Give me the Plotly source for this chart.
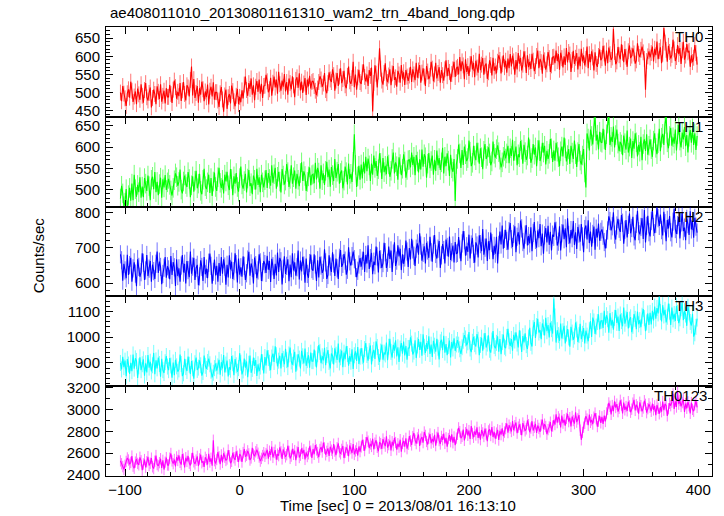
import numpy as np
import plotly.graph_objects as go
from plotly.subplots import make_subplots

# time grid: 1-s bins starting at t_start
t_start = -104
t_step = 1

th0 = [500, 476, 518, 497, 484, 463, 498, 509, 486, 530, 505, 474, 489, 503, 468, 511, 495, 480, 523, 491, 472, 507, 526, 487, 478, 499, 514, 459, 485, 508, 496, 468, 517, 502, 482, 523, 475, 491, 505, 470, 512, 488,
       488, 521, 496, 471, 508, 533, 515, 483, 502, 490, 526, 477, 506, 529, 496, 478, 520, 514, 489, 535, 572, 492, 537, 485, 499, 518, 472, 512, 494, 530, 509, 476, 503, 487, 522, 467, 505, 516, 489, 528, 480, 501,
       501, 478, 460, 498, 515, 481, 447, 492, 508, 455, 487, 496, 470, 519, 504, 476, 462, 491, 510, 468, 488, 473, 506, 484, 522, 544, 507, 491, 526, 510, 539, 494, 520, 479, 516, 532, 502, 536, 497, 524, 485, 518,
       519, 549, 531, 501, 509, 541, 491, 527, 544, 514, 536, 497, 557, 523, 505, 533, 516, 551, 503, 529, 494, 539, 526, 509, 545, 520, 487, 535, 542, 513, 553, 506, 530, 499, 525, 540, 493, 536, 517, 546, 511, 529,
       532, 518, 505, 493, 511, 529, 545, 536, 516, 525, 554, 507, 498, 526, 556, 536, 529, 564, 548, 505, 533, 554, 518, 544, 567, 526, 537, 560, 520, 512, 546, 572, 531, 524, 540, 585, 515, 550, 508, 542, 563, 529,
       524, 556, 578, 543, 531, 550, 518, 562, 546, 569, 448, 526, 575, 552, 514, 558, 622, 566, 533, 522, 554, 581, 539, 529, 547, 564, 520, 553, 573, 535, 542, 516, 560, 550, 527, 576, 538, 556, 521, 562, 544, 532,
       547, 571, 529, 564, 550, 534, 582, 541, 561, 576, 527, 555, 567, 544, 518, 573, 558, 537, 546, 585, 566, 531, 550, 582, 539, 554, 570, 527, 562, 548, 533, 564, 589, 545, 568, 557, 530, 551, 564, 585, 543, 567,
       571, 550, 598, 559, 586, 575, 537, 592, 557, 573, 546, 579, 600, 564, 582, 542, 588, 569, 555, 607, 562, 577, 595, 549, 574, 580, 538, 556, 589, 576, 547, 596, 560, 572, 553, 585, 603, 590, 553, 578, 603, 570,
       588, 555, 594, 567, 606, 572, 602, 586, 549, 590, 564, 609, 580, 596, 561, 577, 614, 592, 554, 603, 570, 585, 565, 607, 588, 559, 573, 601, 616, 567, 593, 584, 552, 605, 589, 563, 578, 612, 595, 557, 575, 598,
       599, 581, 616, 587, 606, 563, 610, 595, 569, 600, 576, 623, 583, 612, 605, 557, 590, 615, 579, 596, 609, 564, 599, 573, 621, 586, 603, 575, 593, 627, 567, 606, 584, 614, 597, 561, 611, 579, 571, 601, 619, 589,
       595, 629, 608, 574, 616, 581, 624, 606, 590, 597, 676, 612, 578, 586, 626, 603, 592, 633, 610, 584, 620, 599, 571, 614, 630, 595, 602, 622, 608, 580, 589, 636, 607, 598, 618, 627, 611, 593, 508, 587, 600, 614,
       597, 609, 627, 586, 621, 603, 641, 592, 615, 625, 581, 607, 678, 638, 618, 585, 629, 612, 594, 604, 646, 619, 587, 598, 631, 606, 623, 579, 617, 640, 591, 602, 634, 611, 615, 571, 603, 584, 596, 631, 609, 577]

th1 = [479, 509, 491, 461, 469, 501, 451, 487, 504, 474, 514, 475, 535, 501, 483, 511, 494, 529, 481, 507, 482, 527, 514, 497, 533, 508, 475, 523, 530, 501, 541, 494, 518, 487, 513, 528, 481, 524, 505, 534, 499, 517,
       525, 511, 498, 486, 504, 522, 538, 529, 509, 518, 547, 500, 491, 519, 533, 513, 506, 541, 525, 482, 510, 531, 495, 521, 544, 503, 514, 537, 497, 489, 523, 549, 508, 501, 517, 535, 492, 527, 485, 519, 540, 506,
       497, 529, 551, 516, 504, 523, 491, 535, 519, 542, 510, 499, 548, 525, 487, 531, 514, 539, 506, 495, 527, 554, 512, 502, 520, 537, 493, 526, 546, 508, 515, 489, 533, 523, 500, 549, 511, 529, 494, 535, 517, 505,
       522, 546, 504, 539, 525, 509, 557, 516, 536, 551, 502, 530, 542, 519, 493, 548, 533, 512, 521, 560, 541, 506, 525, 557, 514, 529, 545, 502, 537, 523, 508, 539, 564, 520, 543, 532, 497, 518, 531, 552, 510, 534,
       536, 515, 563, 524, 551, 540, 502, 557, 522, 538, 511, 544, 565, 529, 547, 507, 553, 534, 520, 572, 527, 542, 560, 514, 539, 545, 503, 521, 554, 541, 512, 561, 525, 537, 518, 565, 630, 558, 506, 531, 556, 523,
       559, 526, 565, 538, 577, 543, 573, 557, 520, 561, 535, 580, 551, 567, 532, 548, 585, 563, 525, 574, 541, 556, 536, 578, 559, 530, 544, 572, 587, 538, 564, 555, 523, 576, 560, 534, 549, 583, 566, 528, 546, 569,
       570, 552, 587, 558, 577, 534, 581, 566, 540, 571, 547, 594, 554, 583, 576, 528, 561, 586, 550, 567, 580, 535, 570, 544, 592, 557, 574, 546, 564, 598, 538, 577, 555, 585, 568, 532, 582, 550, 542, 572, 473, 560,
       572, 606, 585, 551, 593, 558, 601, 583, 567, 574, 615, 589, 555, 563, 603, 580, 569, 610, 587, 561, 597, 576, 548, 591, 607, 572, 579, 599, 585, 557, 566, 613, 584, 575, 595, 604, 588, 570, 552, 564, 577, 591,
       573, 585, 603, 562, 597, 579, 617, 568, 591, 601, 557, 583, 576, 614, 594, 561, 605, 588, 570, 580, 622, 595, 563, 574, 607, 582, 599, 555, 593, 616, 567, 578, 610, 587, 603, 559, 591, 572, 584, 619, 597, 565,
       592, 568, 610, 589, 576, 555, 590, 601, 578, 622, 597, 566, 581, 595, 560, 603, 587, 572, 615, 583, 553, 588, 607, 568, 559, 580, 595, 540, 505, 632, 620, 592, 641, 626, 606, 647, 672, 615, 629, 594, 636, 612,
       610, 643, 618, 593, 630, 655, 675, 605, 624, 612, 648, 599, 628, 641, 608, 590, 612, 606, 581, 627, 609, 594, 639, 587, 601, 620, 574, 614, 596, 632, 611, 578, 605, 589, 624, 569, 607, 618, 591, 630, 582, 603,
       618, 595, 577, 615, 632, 598, 583, 609, 643, 590, 622, 631, 605, 654, 672, 611, 597, 626, 645, 603, 623, 608, 641, 592, 630, 652, 615, 599, 634, 618, 647, 602, 628, 587, 624, 640, 610, 644, 605, 632, 593, 626]

th2 = [682, 665, 607, 655, 636, 614, 681, 623, 651, 672, 604, 642, 659, 627, 591, 668, 646, 618, 631, 685, 658, 609, 636, 680, 620, 641, 663, 604, 653, 634, 612, 655, 690, 629, 661, 646, 597, 626, 644, 674, 615, 648,
       639, 611, 677, 623, 660, 645, 592, 668, 620, 642, 604, 650, 680, 630, 655, 599, 663, 637, 617, 690, 627, 647, 672, 609, 643, 652, 594, 619, 665, 646, 606, 674, 625, 641, 614, 658, 684, 649, 598, 632, 667, 622,
       649, 604, 657, 620, 674, 627, 668, 647, 595, 652, 616, 679, 639, 661, 612, 634, 685, 654, 602, 670, 624, 645, 618, 676, 649, 609, 628, 667, 689, 621, 656, 643, 599, 673, 651, 614, 636, 682, 659, 606, 631, 663,
       654, 629, 678, 638, 663, 603, 669, 648, 612, 655, 622, 687, 632, 672, 662, 596, 641, 676, 626, 649, 668, 605, 653, 617, 685, 636, 659, 621, 645, 693, 610, 664, 633, 675, 650, 601, 670, 626, 615, 657, 681, 640,
       635, 682, 653, 606, 665, 616, 675, 650, 629, 638, 696, 659, 612, 623, 679, 647, 632, 688, 656, 620, 670, 642, 612, 672, 694, 646, 655, 683, 664, 624, 638, 702, 662, 650, 677, 690, 668, 643, 617, 635, 653, 671,
       647, 664, 689, 632, 680, 656, 708, 640, 671, 686, 625, 661, 651, 704, 676, 630, 692, 668, 643, 657, 715, 688, 643, 658, 704, 669, 693, 632, 684, 716, 649, 664, 708, 676, 698, 637, 682, 655, 673, 721, 690, 646,
       700, 667, 726, 696, 678, 649, 698, 713, 681, 742, 707, 664, 686, 705, 656, 715, 693, 672, 732, 688, 661, 710, 737, 683, 670, 698, 720, 643, 679, 711, 694, 656, 724, 703, 675, 733, 666, 688, 707, 659, 717, 684,
       686, 731, 696, 662, 713, 748, 722, 678, 705, 689, 738, 670, 710, 729, 683, 658, 716, 707, 673, 736, 711, 691, 754, 681, 701, 727, 663, 719, 694, 744, 714, 668, 706, 684, 732, 656, 709, 747, 710, 764, 698, 726,
       752, 720, 695, 748, 771, 725, 703, 740, 762, 688, 732, 745, 710, 778, 756, 717, 698, 738, 765, 707, 734, 713, 759, 691, 743, 774, 723, 701, 750, 728, 768, 705, 741, 684, 736, 757, 716, 763, 709, 746, 693, 738,
       732, 773, 749, 707, 718, 762, 693, 742, 767, 725, 756, 702, 785, 737, 713, 751, 728, 777, 709, 745, 697, 760, 741, 718, 768, 733, 688, 754, 764, 724, 779, 714, 747, 704, 740, 761, 695, 755, 730, 770, 721, 746,
       753, 735, 717, 699, 725, 750, 790, 777, 750, 762, 802, 738, 724, 764, 783, 755, 746, 794, 772, 712, 752, 780, 730, 766, 798, 742, 757, 789, 733, 722, 769, 806, 748, 739, 760, 785, 726, 808, 716, 763, 792, 745,
       733, 777, 808, 760, 742, 769, 815, 785, 763, 795, 751, 736, 803, 771, 719, 780, 756, 791, 745, 730, 775, 812, 754, 740, 765, 789, 727, 773, 801, 748, 758, 722, 783, 768, 737, 805, 753, 777, 729, 786, 761, 744]

th3 = [900, 875, 924, 884, 909, 849, 915, 894, 858, 901, 868, 933, 878, 918, 908, 842, 887, 922, 872, 895, 914, 851, 899, 863, 931, 882, 905, 867, 891, 939, 856, 910, 879, 921, 896, 847, 916, 872, 861, 903, 927, 886,
       872, 919, 890, 843, 902, 853, 912, 887, 866, 875, 933, 896, 849, 860, 916, 884, 869, 925, 893, 857, 907, 879, 839, 899, 921, 873, 882, 910, 891, 851, 865, 929, 889, 877, 904, 917, 895, 870, 844, 862, 880, 898,
       870, 887, 912, 855, 903, 879, 931, 863, 894, 909, 848, 884, 874, 927, 899, 853, 915, 891, 866, 880, 938, 901, 856, 871, 917, 882, 906, 845, 897, 929, 862, 877, 921, 889, 911, 850, 895, 868, 886, 934, 903, 859,
       923, 890, 949, 919, 901, 872, 921, 936, 904, 965, 930, 887, 909, 928, 879, 938, 916, 895, 955, 911, 884, 933, 960, 906, 893, 921, 943, 866, 902, 934, 917, 879, 947, 926, 898, 956, 889, 911, 930, 882, 940, 907,
       907, 952, 917, 883, 934, 969, 943, 899, 926, 910, 959, 891, 931, 950, 904, 879, 937, 928, 894, 957, 932, 912, 975, 902, 922, 948, 884, 940, 915, 965, 935, 889, 927, 905, 953, 877, 930, 945, 908, 962, 896, 924,
       958, 926, 901, 954, 977, 931, 909, 946, 968, 894, 938, 951, 916, 984, 962, 923, 904, 944, 971, 913, 940, 933, 979, 911, 963, 994, 943, 921, 970, 948, 988, 925, 961, 904, 956, 977, 936, 983, 929, 966, 913, 958,
       958, 999, 975, 933, 944, 988, 919, 968, 993, 951, 982, 928, 1011, 963, 939, 977, 954, 1003, 935, 971, 923, 986, 967, 944, 994, 959, 914, 980, 990, 950, 1005, 940, 973, 930, 966, 987, 921, 981, 956, 996, 947, 972,
       989, 971, 953, 935, 961, 986, 1008, 995, 968, 980, 1020, 956, 942, 982, 1001, 973, 964, 1012, 990, 930, 970, 998, 948, 984, 1016, 960, 975, 1007, 951, 940, 987, 1024, 966, 957, 978, 1003, 944, 993, 934, 981, 1010, 963,
       957, 1001, 1032, 984, 966, 993, 948, 1009, 987, 1019, 975, 960, 1027, 995, 943, 1004, 980, 1015, 969, 954, 999, 1036, 978, 964, 1035, 1059, 997, 1043, 1071, 1018, 1028, 992, 1053, 1038, 1007, 1075, 1023, 1047, 999, 1056, 1031, 1014,
       1150, 1080, 979, 1027, 1008, 986, 1053, 995, 1023, 1044, 976, 1014, 1031, 999, 963, 1040, 1018, 990, 1003, 1057, 1030, 981, 1008, 1052, 992, 1013, 1035, 976, 1025, 1006, 984, 1027, 1062, 1001, 1076, 1061, 1012, 1041, 1059, 1089, 1030, 1063,
       1064, 1036, 1102, 1048, 1085, 1070, 1017, 1093, 1045, 1067, 1029, 1075, 1105, 1055, 1080, 1024, 1088, 1062, 1042, 1115, 1052, 1072, 1097, 1034, 1068, 1077, 1019, 1044, 1090, 1071, 1031, 1099, 1050, 1066, 1039, 1083, 1109, 1074, 1023, 1057, 1092, 1047,
       1094, 1049, 1102, 1065, 1119, 1072, 1113, 1092, 1158, 1097, 1061, 1124, 1084, 1106, 1057, 1079, 1130, 1099, 1047, 1115, 1069, 1090, 1063, 1121, 1094, 1054, 1073, 1112, 1134, 1066, 1101, 1088, 1044, 1118, 1096, 1059, 1045, 1091, 1002, 1015, 1040, 1072]

th0123 = [2529, 2503, 2477, 2452, 2489, 2524, 2556, 2537, 2498, 2515, 2573, 2481, 2462, 2518, 2546, 2506, 2493, 2562, 2530, 2444, 2501, 2541, 2470, 2521, 2567, 2487, 2508, 2554, 2475, 2459, 2526, 2578, 2496, 2483, 2513, 2549, 2465, 2534, 2450, 2517, 2559, 2492,
          2491, 2554, 2597, 2529, 2504, 2542, 2478, 2565, 2533, 2579, 2516, 2495, 2591, 2545, 2470, 2558, 2524, 2574, 2508, 2487, 2550, 2603, 2521, 2501, 2536, 2570, 2482, 2547, 2587, 2512, 2526, 2475, 2562, 2541, 2496, 2594, 2519, 2553, 2485, 2718, 2531, 2506,
          2542, 2609, 2567, 2500, 2584, 2515, 2599, 2563, 2533, 2546, 2628, 2576, 2509, 2525, 2604, 2558, 2537, 2617, 2571, 2520, 2591, 2576, 2519, 2605, 2637, 2568, 2581, 2621, 2593, 2537, 2556, 2648, 2590, 2573, 2612, 2631, 2599, 2564, 2527, 2552, 2578, 2604,
          2571, 2596, 2631, 2550, 2618, 2584, 2659, 2561, 2606, 2627, 2540, 2591, 2577, 2652, 2612, 2547, 2635, 2601, 2566, 2586, 2668, 2615, 2552, 2573, 2639, 2589, 2623, 2535, 2610, 2656, 2560, 2581, 2644, 2598, 2630, 2543, 2607, 2569, 2594, 2662, 2619, 2556,
          2637, 2590, 2673, 2630, 2605, 2563, 2633, 2655, 2610, 2696, 2647, 2585, 2616, 2643, 2574, 2658, 2627, 2597, 2682, 2619, 2581, 2650, 2689, 2612, 2594, 2634, 2665, 2555, 2607, 2652, 2628, 2573, 2670, 2641, 2601, 2683, 2588, 2620, 2646, 2578, 2661, 2614,
          2657, 2721, 2672, 2623, 2695, 2746, 2709, 2646, 2684, 2661, 2732, 2635, 2691, 2718, 2653, 2617, 2700, 2687, 2639, 2729, 2693, 2664, 2754, 2650, 2678, 2715, 2625, 2704, 2668, 2740, 2697, 2632, 2686, 2655, 2723, 2614, 2690, 2712, 2659, 2735, 2641, 2681,
          2756, 2711, 2675, 2751, 2784, 2718, 2687, 2739, 2770, 2665, 2728, 2747, 2696, 2793, 2762, 2707, 2679, 2736, 2775, 2692, 2731, 2701, 2767, 2669, 2744, 2788, 2715, 2684, 2753, 2722, 2779, 2689, 2740, 2660, 2733, 2764, 2705, 2772, 2695, 2748, 2672, 2737,
          2772, 2831, 2796, 2736, 2753, 2815, 2717, 2787, 2822, 2763, 2806, 2729, 2848, 2780, 2745, 2799, 2766, 2836, 2740, 2791, 2723, 2812, 2785, 2752, 2824, 2774, 2709, 2803, 2818, 2761, 2839, 2747, 2794, 2733, 2783, 2813, 2720, 2805, 2769, 2826, 2756, 2792,
          2824, 2871, 2788, 2856, 2830, 2798, 2893, 2811, 2851, 2880, 2783, 2838, 2862, 2817, 2765, 2875, 2844, 2804, 2822, 2899, 2860, 2791, 2829, 2892, 2807, 2837, 2868, 2784, 2853, 2826, 2795, 2857, 2906, 2820, 2865, 2843, 2773, 2815, 2840, 2883, 2800, 2847,
          2901, 2861, 2955, 2879, 2932, 2910, 2834, 2943, 2875, 2906, 2852, 2917, 2960, 2888, 2924, 2845, 2935, 2898, 2870, 2974, 2884, 2913, 2949, 2810, 2722, 2790, 2837, 2873, 2938, 2911, 2855, 2952, 2881, 2904, 2866, 2929, 2966, 2915, 2843, 2892, 2941, 2877,
          2932, 2867, 2943, 2890, 2967, 3000, 3059, 3028, 2955, 3035, 2984, 3074, 3017, 3048, 2979, 3010, 3083, 3039, 2964, 3062, 2996, 3026, 2987, 3070, 3031, 2974, 3002, 3057, 3088, 2991, 3042, 3023, 2960, 3065, 3034, 2982, 3013, 3079, 3046, 2970, 3006, 3051,
          3019, 2983, 3053, 2996, 3032, 2947, 3040, 3010, 2960, 3021, 2979, 3071, 2993, 3050, 3035, 2941, 3006, 3056, 3034, 3067, 3142, 3005, 3073, 3022, 3158, 3048, 3081, 3027, 3062, 3095, 2976, 3053, 3010, 3069, 3034, 2964, 3062, 3000, 2983, 3043, 3078, 3019]

series_names = ["TH0", "TH1", "TH2", "TH3", "TH0123"]
series_values = [th0, th1, th2, th3, th0123]
series_errors = [22, 23, 26, 31, 52]
series_colors = ["#ff0000", "#00ff00", "#0000ff", "#00ffff", "#ff00ff"]
error_colors = ["rgba(255,0,0,0.55)", "rgba(0,255,0,0.55)", "rgba(0,0,255,0.55)",
                "rgba(0,255,255,0.55)", "rgba(255,0,255,0.55)"]
label_x = [0.9868, 0.9868, 0.9868, 0.9868, 0.9934]
y_ranges = [[433, 681], [460, 671], [562, 818], [810, 1158], [2391, 3212]]
y_dticks = [50, 50, 100, 100, 200]
y_minor = [10, 10, 20, 20, 100]
x_range = [-116.6, 412]

title_text = "ae408011010_20130801161310_wam2_trn_4band_long.qdp"
x_title = "Time [sec] 0 = 2013/08/01 16:13:10"
y_title = "Counts/sec"

FONT = "Liberation Sans, Arial, Helvetica, sans-serif"

fig = make_subplots(rows=5, cols=1, shared_xaxes=True, vertical_spacing=0)

for i, (name, vals, err, col, ecol) in enumerate(zip(series_names, series_values, series_errors,
                                                    series_colors, error_colors)):
    t = t_start + t_step * np.arange(len(vals))
    fig.add_trace(go.Scatter(
        x=t, y=vals, mode="lines",
        line=dict(color=col, width=1.1),
        error_y=dict(type="constant", value=err, color=ecol, thickness=1, width=0),
        showlegend=False, hoverinfo="skip"), row=i + 1, col=1)

axis_common = dict(showline=True, linecolor="black", linewidth=1, mirror="ticks",
                   ticks="inside", tickcolor="black", showgrid=False, zeroline=False,
                   tickfont=dict(family=FONT, size=15, color="black"))

for i in range(5):
    fig.update_xaxes(range=x_range, dtick=100, tick0=0, ticklen=7,
                     minor=dict(dtick=20, tick0=0, ticklen=4, ticks="inside", tickcolor="black"),
                     showticklabels=(i == 4), **axis_common, row=i + 1, col=1)
    fig.update_yaxes(range=y_ranges[i], dtick=y_dticks[i], tick0=0, ticklen=7,
                     minor=dict(dtick=y_minor[i], tick0=0, ticklen=4, ticks="inside", tickcolor="black"),
                     ticklabelstandoff=2, **axis_common, row=i + 1, col=1)

annotations = []
for i, name in enumerate(series_names):
    yref = "y domain" if i == 0 else f"y{i + 1} domain"
    annotations.append(dict(text=name, xref="paper", yref=yref, x=label_x[i], y=1.0,
                            xanchor="right", yanchor="top", showarrow=False, borderpad=0,
                            font=dict(family=FONT, size=15, color="black")))

annotations.append(dict(text=title_text, xref="paper", yref="paper", x=0.003, y=1.0334,
                        xanchor="left", yanchor="middle", showarrow=False,
                        font=dict(family=FONT, size=15, color="black")))
annotations.append(dict(text=x_title, xref="paper", yref="paper", x=0.482, y=-0.0646,
                        xanchor="center", yanchor="middle", showarrow=False,
                        font=dict(family=FONT, size=15, color="black")))
annotations.append(dict(text=y_title, xref="paper", yref="paper", x=-0.112, y=0.492,
                        xanchor="center", yanchor="middle", textangle=-90, showarrow=False,
                        font=dict(family=FONT, size=15, color="black")))

fig.update_layout(width=724, height=516, margin=dict(l=106, r=12, t=27, b=40),
                  paper_bgcolor="white", plot_bgcolor="white", annotations=annotations,
                  font=dict(family=FONT, size=15, color="black"))

fig.write_html("out.html", config={"displayModeBar": False})

# remove the default page margin so the figure sits at the window's top-left corner
with open("out.html", "r", encoding="utf-8") as f:
    html = f.read()
html = html.replace("<head>", "<head><style>html,body{margin:0;padding:0;overflow:hidden;}</style>", 1)
with open("out.html", "w", encoding="utf-8") as f:
    f.write(html)
